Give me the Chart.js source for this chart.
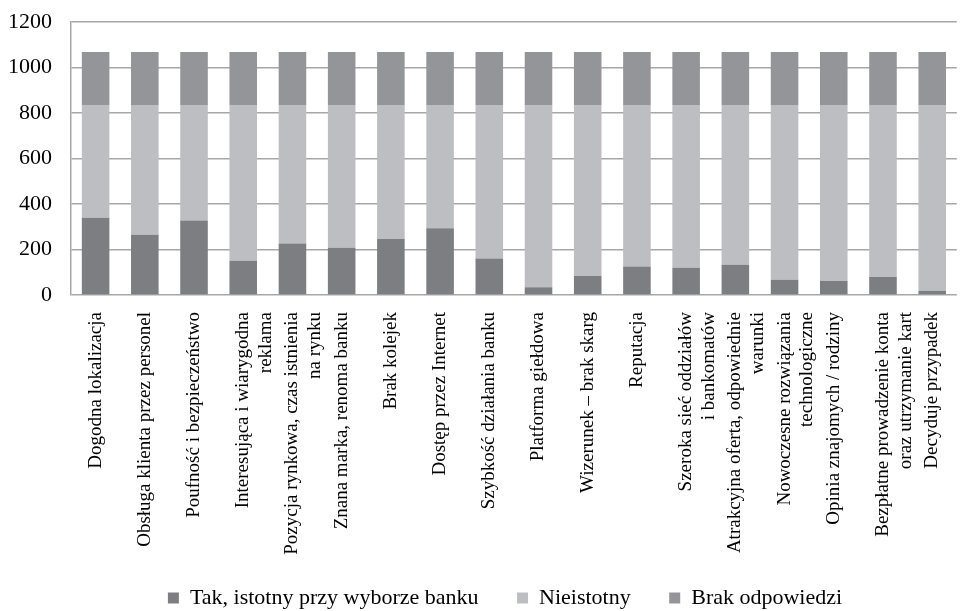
<!DOCTYPE html>
<html>
<head>
<meta charset="utf-8">
<script src="https://cdn.jsdelivr.net/npm/chart.js@4"></script>
<style>
  html, body { margin: 0; padding: 0; background: #fff; }
  #wrap { width: 972px; height: 611px; }
</style>
</head>
<body>
<div id="wrap"><canvas id="chart"></canvas></div>
<script>
const categories = [
    'Dogodna lokalizacja',
    'Obsługa klienta przez personel',
    'Poufność i bezpieczeństwo',
    ['Interesująca i wiarygodna', 'reklama'],
    ['Pozycja rynkowa, czas istnienia', 'na rynku'],
    'Znana marka, renoma banku',
    'Brak kolejek',
    'Dostęp przez Internet',
    'Szybkość działania banku',
    'Platforma giełdowa',
    'Wizerunek – brak skarg',
    'Reputacja',
    ['Szeroka sieć oddziałów', 'i bankomatów'],
    ['Atrakcyjna oferta, odpowiednie', 'warunki'],
    ['Nowoczesne rozwiązania', 'technologiczne'],
    'Opinia znajomych / rodziny',
    ['Bezpłatne prowadzenie konta', 'oraz utrzymanie kart'],
    'Decyduje przypadek',
];

const tak = [340, 265, 327, 151, 226, 208, 246, 293, 160, 34, 84, 125, 120, 133, 67, 62, 79, 19];
const nieistotny = [495, 570, 508, 684, 609, 627, 589, 542, 675, 801, 751, 710, 715, 702, 768, 773, 756, 816];
const brak = [233, 233, 233, 233, 233, 233, 233, 233, 233, 233, 233, 233, 233, 233, 233, 233, 233, 233];

const yTicks = [0, 200, 400, 600, 800, 1000, 1200];

const FONT = "'Liberation Serif', 'Times New Roman', serif";
const GAP = '\u00a0'.repeat(7);

// the legend in the source sits a little right of centre and close to the bottom edge
const legendShift = {
    id: 'legendShift',
    afterLayout(chart) {
        const lg = chart.legend;
        lg.left += 19;
        lg.right += 19;
        lg.top += 10;
        lg.bottom += 10;
    },
};

new Chart(document.getElementById('chart'), {
    type: 'bar',
    data: {
        labels: categories,
        datasets: [
            { label: 'Tak, istotny przy wyborze banku', data: tak, backgroundColor: '#7d7e82' },
            { label: 'Nieistotny', data: nieistotny, backgroundColor: '#bdbec1' },
            { label: 'Brak odpowiedzi', data: brak, backgroundColor: '#949599' },
        ],
    },
    plugins: [legendShift],
    options: {
        responsive: true,
        maintainAspectRatio: false,
        animation: false,
        layout: { padding: { top: 0, right: 0, left: 0, bottom: 2 } },
        datasets: {
            bar: { categoryPercentage: 1, barPercentage: 0.56 },
        },
        plugins: {
            tooltip: { enabled: false },
            legend: {
                position: 'bottom',
                labels: {
                    color: '#000',
                    boxWidth: 11,
                    boxHeight: 11,
                    padding: 0,
                    font: { family: FONT, size: 22 },
                    generateLabels: chart => {
                        const items = Chart.defaults.plugins.legend.labels.generateLabels(chart);
                        items.forEach((it, i) => {
                            if (i < items.length - 1) it.text += GAP;
                        });
                        return items;
                    },
                },
            },
        },
        scales: {
            x: {
                stacked: true,
                grid: { display: false, drawTicks: false },
                border: { display: false },
                ticks: {
                    color: '#000',
                    maxRotation: 90,
                    minRotation: 90,
                    autoSkip: false,
                    padding: 17,
                    font: { family: FONT, size: 19 },
                },
                afterFit: s => { s.height = 282; },
            },
            y: {
                stacked: true,
                min: 0,
                max: 1200,
                afterBuildTicks: s => { s.ticks = yTicks.map(v => ({ value: v })); },
                grid: { color: '#a7a7a9', lineWidth: 1.5, drawTicks: false },
                border: { display: true, color: '#a7a7a9', width: 1.5 },
                ticks: {
                    color: '#000',
                    padding: 19,
                    font: { family: FONT, size: 22 },
                    callback: v => String(v),
                },
                afterFit: s => {
                    s.width = 71;
                    s.paddingTop = 22;
                },
            },
        },
    },
});
</script>
</body>
</html>
